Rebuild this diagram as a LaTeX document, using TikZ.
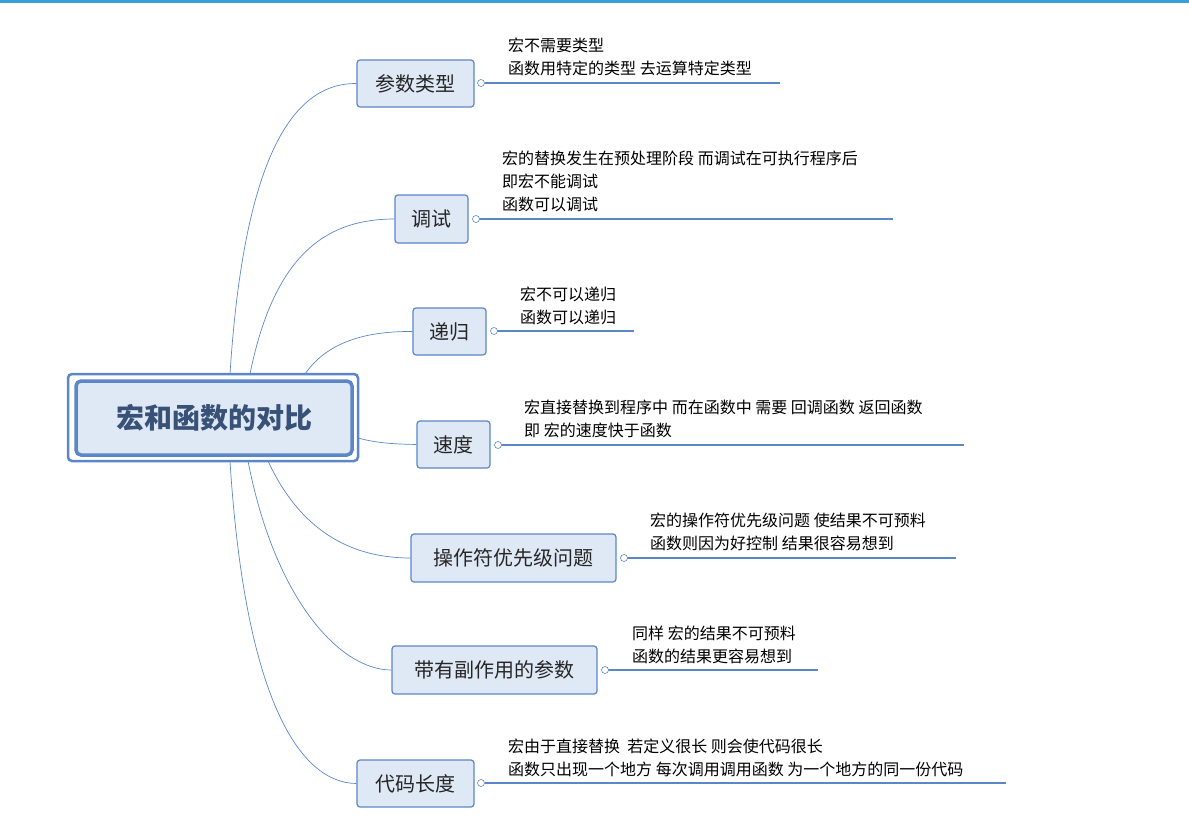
\documentclass[tikz,border=0pt]{standalone}
\usepackage{fontspec}
\setmainfont{Noto Sans CJK SC}
\begin{document}
\begin{tikzpicture}[x=1pt,y=-1pt,
  br/.style={draw=nodeb,fill=nodef,rounded corners=3pt,line width=1.2pt,inner sep=0pt,font=\fontsize{20}{20}\selectfont,text=black!85},
  lnk/.style={draw=linkc,line width=0.7pt},
  ul/.style={draw=linkc,line width=1.8pt},
  knob/.style={circle,draw=linkc,fill=white,line width=0.6pt,inner sep=0pt,minimum size=7pt},
  tx/.style={anchor=south west,inner sep=0pt,font=\fontsize{16}{23}\selectfont,align=left}]
\definecolor{nodeb}{HTML}{5B87C7}
\definecolor{nodef}{HTML}{DFE8F5}
\definecolor{linkc}{HTML}{5B87C7}
\definecolor{topc}{HTML}{3CA0D8}
\useasboundingbox (0,0) rectangle (1189,815);
\fill[topc] (0,0) rectangle (1189,3);
% central
\draw[draw=nodeb,line width=2.5pt,fill=white,rounded corners=4pt] (68,374) rectangle (358,461);
\node[draw=nodeb,line width=3.5pt,fill=nodef,rounded corners=5pt,minimum width=276pt,minimum height=74pt,font=\bfseries\fontsize{28}{28}\selectfont,text=nodeb!60!black] (c) at (214,418) {宏和函数的对比};
% branches
\node[br,minimum width=117pt,minimum height=47pt] (b1) at (415.5,83.5) {参数类型};
\node[br,minimum width=73pt,minimum height=48pt] (b2) at (431.5,219) {调试};
\node[br,minimum width=73pt,minimum height=47pt] (b3) at (449.5,331.5) {递归};
\node[br,minimum width=73pt,minimum height=47pt] (b4) at (453.5,444.5) {速度};
\node[br,minimum width=205pt,minimum height=48pt] (b5) at (513.5,558) {操作符优先级问题};
\node[br,minimum width=205pt,minimum height=48pt] (b6) at (494.5,670) {带有副作用的参数};
\node[br,minimum width=117pt,minimum height=47pt] (b7) at (415.5,783.5) {代码长度};
% curves
\draw[lnk] (230,374) .. controls (245,140) and (300,83) .. (b1.west);
\draw[lnk] (250,374) .. controls (275,250) and (330,219) .. (b2.west);
\draw[lnk] (305,374) .. controls (325,345) and (360,331) .. (b3.west);
\draw[lnk] (358,438) .. controls (380,444) and (400,444) .. (b4.west);
\draw[lnk] (268,461) .. controls (300,530) and (350,558) .. (b5.west);
\draw[lnk] (248,461) .. controls (275,600) and (340,670) .. (b6.west);
\draw[lnk] (230,461) .. controls (245,700) and (300,783) .. (b7.west);
% underlines and texts
\draw[ul] (485,83) -- (780,83);   \node[knob] (k1) at (481,83) {};
\draw[ul] (477,219) -- (893,219); \node[knob] (k2) at (476,219) {};
\draw[ul] (495,331) -- (634,331); \node[knob] (k3) at (494,331) {};
\draw[ul] (499,445) -- (964,445); \node[knob] (k4) at (498,445) {};
\draw[ul] (625,558) -- (956,558); \node[knob] (k5) at (624,558) {};
\draw[ul] (606,670) -- (818,670); \node[knob] (k6) at (605,670) {};
\draw[ul] (485,783) -- (1006,783); \node[knob] (k7) at (481,783) {};
\node[tx] (t1) at (508,76) {宏不需要类型\\函数用特定的类型 去运算特定类型};
\node[tx] (t2) at (502,212) {宏的替换发生在预处理阶段 而调试在可执行程序后\\即宏不能调试\\函数可以调试};
\node[tx] (t3) at (520,325) {宏不可以递归\\函数可以递归};
\node[tx] (t4) at (524,438) {宏直接替换到程序中 而在函数中 需要 回调函数 返回函数\\即 宏的速度快于函数};
\node[tx] (t5) at (650,551) {宏的操作符优先级问题 使结果不可预料\\函数则因为好控制 结果很容易想到};
\node[tx] (t6) at (632,664) {同样 宏的结果不可预料\\函数的结果更容易想到};
\node[tx] (t7) at (508,777) {宏由于直接替换\ \ 若定义很长 则会使代码很长\\函数只出现一个地方 每次调用调用函数 为一个地方的同一份代码};
\end{tikzpicture}
\end{document}
